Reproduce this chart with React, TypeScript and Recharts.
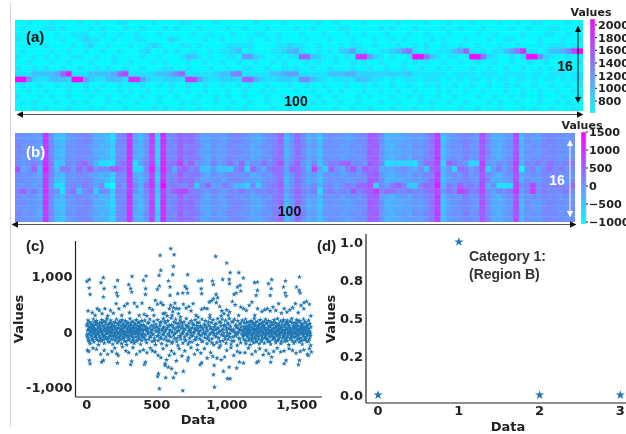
import React from 'react';
import { BarChart, Bar, Cell, XAxis, YAxis, ScatterChart, Scatter, Symbols } from 'recharts';

// ---- Heatmap (a): 16 rows x 100 columns, values in hundreds
const a00 = [7,7,8,7,7,7,8,7,7,7,7,8,7,7,8,7,7,7,8,8,7,7,7,7,8,7,7,7,7,8,8,7,7,7,7,8,7,7,7,7,7,7,8,7,7,7,7,8,7,7,7,7,7,8,7,7,8,7,7,7,7,8,7,7,7,7,7,8,7,7,7,7,8,7,7,7,8,7,7,7,8,7,7,7,7,8,7,7,8,7,7,8,8,7,7,7,7,8,7,7];
const a01 = [7,8,7,7,7,8,8,7,8,7,7,7,7,8,7,8,7,7,7,8,7,7,8,7,7,7,8,7,8,7,7,7,8,7,7,7,7,8,7,7,8,7,7,7,8,7,7,7,7,8,7,7,8,7,7,7,7,8,8,7,7,7,7,7,8,7,8,7,7,7,8,7,7,7,7,8,7,7,8,7,7,7,8,7,7,7,7,8,7,7,8,7,7,7,8,8,7,7,7,8];
const a02 = [7,7,7,8,7,7,7,8,7,7,8,8,8,7,7,8,7,7,8,7,7,8,7,7,7,8,7,7,7,7,7,8,7,7,8,7,7,7,8,7,7,7,8,8,7,7,8,7,7,7,8,7,7,7,8,7,7,7,8,7,7,8,7,7,7,8,7,7,7,8,7,7,8,7,7,7,8,7,7,7,7,8,7,7,8,7,7,7,7,8,7,7,7,8,8,7,7,8,7,7];
const a03 = [8,7,7,7,8,7,7,7,8,7,7,8,9,8,8,7,7,8,7,7,7,8,8,7,7,7,7,9,8,7,7,7,7,8,7,7,8,7,7,7,7,8,7,7,8,7,8,7,7,7,7,8,7,7,7,8,7,7,7,8,7,7,7,8,7,7,8,7,8,7,7,7,7,8,7,8,7,7,7,8,7,7,7,8,7,7,8,8,7,7,7,7,8,7,7,7,8,7,7,8];
const a04 = [7,7,8,7,7,8,7,7,7,7,8,7,8,9,7,7,8,7,7,7,8,7,7,8,9,8,7,7,7,8,8,7,8,7,7,7,7,8,8,8,8,8,7,7,7,7,8,8,9,8,8,7,7,8,7,7,7,8,7,8,8,7,7,8,7,7,7,8,7,7,8,7,8,7,7,8,7,7,8,7,7,8,7,7,7,8,7,7,8,7,7,7,8,7,8,8,8,7,8,7];
const a05 = [7,8,7,7,7,7,8,7,7,8,7,7,8,7,7,8,7,7,8,7,7,7,8,9,7,7,8,7,8,7,7,8,7,7,8,7,8,8,9,10,7,8,7,7,7,8,8,9,10,11,8,7,7,8,7,8,7,9,10,12,8,8,7,7,8,8,9,10,13,14,8,7,8,7,8,8,8,10,12,15,8,7,8,7,8,8,10,12,14,18,8,8,7,8,10,10,11,13,17,20];
const a06 = [8,7,7,8,7,8,7,8,7,7,8,8,7,7,8,7,7,8,7,7,7,7,8,7,7,8,7,7,7,8,10,10,8,7,8,7,7,8,8,7,12,12,9,8,7,7,8,7,8,8,15,15,10,9,8,7,8,7,8,7,18,18,12,9,8,7,8,7,7,8,20,20,14,10,8,7,8,8,7,7,20,20,14,9,8,7,7,8,7,8,20,20,13,9,8,7,7,8,7,7];
const a07 = [7,7,8,7,7,7,8,7,7,8,7,7,7,8,7,7,7,8,7,7,8,7,7,7,8,7,8,7,7,7,8,7,7,8,7,7,8,7,7,8,7,7,8,7,7,8,7,8,7,7,7,8,7,8,7,7,8,7,7,8,7,8,7,7,8,7,7,7,8,7,8,7,8,7,7,8,7,7,8,7,7,8,7,7,8,7,7,8,7,7,8,7,7,8,7,7,8,7,7,8];
const a08 = [8,7,7,8,7,8,7,7,8,7,7,8,7,7,8,7,8,7,7,8,7,7,8,7,7,7,8,8,7,7,8,7,7,7,8,7,7,8,7,7,8,8,7,7,8,7,7,8,7,8,7,7,8,7,7,8,7,7,7,8,7,7,8,7,7,8,7,7,8,7,7,8,7,7,8,7,8,7,7,7,8,7,7,8,7,7,8,7,7,8,7,7,8,7,8,7,7,8,7,7];
const a09 = [8,8,8,10,10,10,10,11,15,19,8,8,8,10,10,10,10,11,15,17,8,8,8,8,9,10,10,11,13,15,8,8,8,8,8,9,10,10,13,14,8,8,8,8,8,10,10,11,12,12,8,8,8,8,8,10,10,10,11,11,9,9,9,9,9,9,9,9,9,10,8,8,8,8,8,8,7,8,8,8,8,7,8,8,8,7,8,8,8,8,7,8,8,7,8,8,8,7,8,8];
const a10 = [20,20,13,9,8,8,10,10,10,9,20,20,12,9,8,8,10,10,10,8,18,18,12,9,8,8,9,9,9,8,17,17,12,9,8,8,9,9,9,8,15,15,11,9,8,8,9,9,9,8,13,13,10,9,8,7,8,8,8,8,10,10,9,8,8,7,8,7,8,8,8,7,8,8,8,7,8,7,8,7,8,8,7,8,7,8,8,7,8,8,7,8,7,8,8,7,8,7,8,8];
const a11 = [7,8,7,7,8,7,7,8,7,8,7,7,8,7,7,8,7,7,8,7,7,7,8,7,7,8,7,8,7,7,8,7,7,8,7,7,8,7,7,8,7,8,7,7,8,7,7,7,8,7,7,8,7,7,8,7,7,7,8,7,7,8,7,8,7,7,8,7,7,8,7,7,8,7,8,7,7,8,7,7,8,7,7,8,7,7,8,7,8,7,7,8,7,7,8,7,7,8,7,8];
const a12 = [7,7,8,7,7,8,7,7,7,8,7,7,8,7,8,7,7,7,8,7,8,7,7,8,7,7,7,8,7,7,8,7,7,8,7,7,7,8,7,7,8,7,7,8,7,8,7,7,7,8,7,7,8,7,7,8,7,8,7,7,7,8,7,7,8,7,7,8,7,7,8,7,7,7,8,7,8,7,7,8,7,7,8,7,7,7,8,7,7,8,7,7,8,7,7,8,7,7,8,7];
const a13 = [8,7,7,7,8,7,8,7,7,8,7,7,7,8,7,7,8,7,7,8,7,7,8,7,7,8,7,7,8,7,7,7,8,7,7,8,7,8,7,7,8,7,7,7,8,7,7,8,7,7,8,7,7,8,7,7,8,7,7,7,8,7,8,7,7,7,8,7,7,8,7,8,7,7,8,7,7,8,7,7,7,8,7,7,8,7,7,8,7,8,7,7,8,7,7,7,8,7,7,8];
const a14 = [7,8,7,8,7,7,7,8,7,7,8,7,8,7,7,7,8,7,8,7,7,8,7,7,7,8,7,7,7,8,7,8,7,7,7,8,7,7,8,7,7,8,7,7,8,7,7,7,8,7,7,7,8,7,8,7,7,8,7,7,8,7,7,7,8,7,7,8,7,7,7,8,7,8,7,7,8,7,7,8,7,7,7,8,7,8,7,7,8,7,7,7,8,7,7,8,7,8,7,7];
const a15 = [7,7,7,8,7,8,7,7,7,8,7,7,7,8,7,8,7,7,7,8,7,7,7,7,8,7,8,7,7,8,7,7,8,7,7,7,7,8,7,7,8,7,7,7,7,8,7,7,8,7,7,8,7,7,7,7,8,7,7,8,7,7,8,7,7,7,8,7,7,7,8,7,7,8,7,7,7,7,8,7,7,8,7,7,7,8,7,7,7,8,7,8,7,7,8,7,7,7,8,7];
const heatRowsA = [a00,a01,a02,a03,a04,a05,a06,a07,a08,a09,a10,a11,a12,a13,a14,a15];

// ---- Heatmap (b): values in hundreds
const bBand = [1,1,0,0,-1,10,1,-3,-4,0,0,1,2,1,-2,-2,-3,-6,1,2,10,-1,-3,0,9,-6,11,1,2,5,3,4,2,-1,-1,0,0,-1,1,2,1,0,-1,-2,0,1,2,5,-3,0,5,1,-2,-1,-4,0,1,0,0,-1,0,1,1,6,5,1,-3,-2,-2,-1,-1,0,-1,1,4,9,-4,-1,0,1,2,1,0,7,2,-2,-2,-1,0,8,-3,1,0,-1,1,2,1,1,0,1];
const bBand2 = [2,0,1,0,-2,9,2,-2,-3,1,0,2,1,0,-1,-3,-2,-5,2,1,11,-2,-2,1,8,-5,10,2,1,6,2,3,3,0,-2,1,-1,0,2,1,0,1,-2,-1,1,0,3,4,-2,1,4,2,-1,0,-3,1,0,1,-1,0,1,0,2,5,6,0,-2,-3,-1,0,-2,1,0,2,3,10,-3,0,1,0,3,0,1,6,1,-1,-3,0,1,7,-2,0,1,0,2,1,2,0,1,0];
const b05 = [1,0,1,2,0,11,3,-5,-4,2,0,3,5,1,-3,-7,-7,-7,2,4,10,-7,-1,2,9,-6,12,3,4,9,2,6,1,0,-2,3,-1,1,4,0,5,-2,1,0,4,1,3,7,-1,2,6,0,-2,2,-4,1,3,2,5,5,1,2,0,6,5,2,-7,-6,-6,-6,-6,-7,0,4,5,9,-6,5,3,1,0,-6,-6,9,0,-1,1,0,2,9,-3,2,1,3,1,4,2,1,2,3];
const b06 = [7,-2,0,6,-3,13,3,-4,3,3,-1,5,2,6,0,2,1,6,6,3,11,-6,-6,2,12,-3,12,4,-2,4,6,1,3,-4,-4,0,-4,-4,-6,2,4,-6,5,1,-2,3,5,4,-1,6,5,2,-3,9,-1,-6,6,1,-2,3,7,0,6,4,5,-2,-1,-1,0,2,-1,-2,1,-5,5,7,-3,1,-6,5,3,-1,2,8,-6,0,3,-1,2,9,-10,1,3,-2,2,5,1,3,1,2];
const b09 = [1,0,1,-1,0,10,1,-7,-6,1,2,0,3,1,-1,2,-8,-10,3,0,10,2,-2,4,10,-4,15,2,3,2,1,4,-5,1,5,-1,0,3,1,-3,-3,-6,2,-5,1,2,3,6,-2,1,4,1,-1,2,-3,1,2,-1,1,3,1,5,5,7,-6,2,-1,3,6,2,-5,-5,2,5,4,13,-3,3,1,6,2,3,1,8,-2,1,-7,-7,-7,9,1,2,8,1,2,1,3,2,1,5];
const b10 = [2,6,1,3,-1,11,2,1,-7,2,4,-5,1,3,-5,2,1,-5,3,2,9,1,-3,2,8,-4,9,2,6,8,8,3,2,1,0,2,1,-1,2,1,3,1,0,2,1,3,2,5,-1,2,6,2,1,3,-7,2,3,1,2,1,7,2,4,6,10,2,4,4,1,2,3,1,2,3,5,8,0,3,2,9,7,2,3,8,1,-1,2,1,3,10,-1,2,9,1,3,2,1,2,3,2];
const heatRowsB = [bBand,bBand,bBand2,bBand,bBand2,b05,b06,bBand2,bBand,b09,b10,bBand2,bBand,bBand,bBand2,bBand];

// ---- Scatter (c)
const cloudHigh = [[2,913],[19,943],[17,793],[24,679],[102,889],[119,979],[124,781],[119,631],[202,811],[221,931],[214,703],[221,649],[300,853],[324,1003],[314,781],[321,721],[405,931],[424,1009],[421,781],[419,679],[517,1021],[524,1381],[529,1111],[519,829],[505,769],[600,1502],[624,1393],[619,1183],[614,1033],[583,919],[595,811],[595,661],[721,1033],[702,823],[714,781],[721,703],[650,691],[686,703],[798,919],[821,931],[817,781],[821,691],[898,919],[905,853],[921,1363],[924,679],[971,949],[1000,1243],[1017,949],[1024,1069],[1019,871],[1086,1069],[1119,973],[1095,841],[1076,811],[1067,703],[1052,679],[1100,739],[1198,889],[1219,901],[1219,751],[1210,661],[1298,871],[1321,943],[1317,781],[1310,661],[1405,811],[1419,919],[1417,703],[1424,649],[1498,811],[1517,751],[1524,703],[1519,991]];
const cloudMidUp = [[10,380],[40,350],[60,300],[75,420],[90,390],[110,330],[130,420],[150,290],[170,390],[190,340],[210,510],[230,420],[250,300],[270,470],[290,510],[305,350],[340,520],[360,460],[375,300],[395,520],[410,320],[430,290],[450,430],[470,400],[490,570],[505,500],[530,530],[545,490],[560,340],[575,290],[590,420],[600,480],[615,370],[630,520],[640,420],[655,330],[670,270],[690,500],[710,430],[730,460],[745,380],[760,510],[780,300],[795,270],[820,410],[840,430],[860,420],[875,540],[890,560],[905,600],[925,530],[935,620],[950,460],[965,380],[980,330],[1000,400],[1020,360],[1040,550],[1060,490],[1085,300],[1100,450],[1120,420],[1140,390],[1160,480],[1180,540],[1200,300],[1220,420],[1250,370],[1270,400],[1290,420],[1310,380],[1330,450],[1350,390],[1370,510],[1390,340],[1410,420],[1430,360],[1450,400],[1470,440],[1490,510],[1510,350],[1530,480],[1550,420],[1552,529],[1570,550],[1590,500],[1600,290],[545,330],[620,440],[880,300],[960,290],[1010,300],[610,300],[480,300],[660,420]];
const cloudMidDown = [[5,-330],[15,-350],[45,-290],[70,-310],[100,-400],[125,-330],[150,-400],[180,-350],[200,-290],[225,-420],[255,-270],[280,-340],[300,-370],[330,-280],[355,-400],[380,-350],[405,-320],[430,-370],[455,-290],[470,-340],[490,-360],[510,-420],[530,-460],[545,-300],[570,-500],[590,-420],[605,-340],[625,-390],[640,-520],[660,-300],[680,-430],[700,-340],[725,-460],[745,-280],[770,-400],[790,-320],[815,-380],[840,-300],[860,-470],[885,-370],[900,-440],[930,-470],[945,-280],[960,-500],[985,-450],[1000,-330],[1030,-280],[1050,-420],[1075,-350],[1095,-370],[1130,-370],[1155,-290],[1180,-400],[1205,-350],[1235,-300],[1260,-410],[1280,-330],[1300,-390],[1335,-350],[1360,-290],[1385,-360],[1410,-340],[1445,-300],[1470,-330],[1495,-380],[1525,-350],[1550,-320],[1575,-400],[1590,-300],[1605,-360]];
const cloudLow = [[19,-511],[24,-571],[119,-511],[107,-541],[219,-559],[214,-390],[321,-529],[314,-589],[419,-541],[412,-583],[512,-751],[519,-1021],[507,-799],[560,-571],[564,-823],[619,-823],[636,-739],[686,-1057],[690,-709],[583,-631],[607,-661],[560,-601],[721,-511],[810,-589],[821,-553],[905,-769],[910,-601],[912,-991],[976,-709],[1005,-841],[1024,-841],[1017,-631],[1071,-649],[1090,-541],[1119,-559],[1214,-553],[1226,-529],[1314,-541],[1321,-450],[1410,-571],[1424,-511],[1512,-589],[1519,-511],[1583,-420]];
const coreA = [[0,120],[3,-80],[6,30],[9,210],[12,-150],[15,60],[18,-30],[21,180],[24,-210],[27,90],[30,-60],[33,10],[36,150],[39,-120],[42,40],[45,-20],[48,230],[51,-180],[54,70],[57,-90],[60,20],[63,130],[66,-40],[69,200],[72,-140],[75,50],[78,-10],[81,100],[84,-230],[87,80],[90,-70],[93,170],[96,-110],[99,0],[102,60],[105,-160],[108,220],[111,-30],[114,110],[117,-80],[120,30],[123,190],[126,-200],[129,70],[132,-50],[135,140],[138,-120],[141,10],[144,240],[147,-20],[150,90],[153,-170],[156,50],[159,-90],[162,160],[165,-60],[168,20],[171,210],[174,-130],[177,80],[180,-10],[183,120],[186,-220],[189,40],[192,-70],[195,180],[198,-40],[201,100],[204,-150],[207,60],[210,-100],[213,230],[216,0],[219,-190],[222,140],[225,-30],[228,70],[231,-80],[234,190],[237,-120],[240,30],[243,110],[246,-60],[249,-210],[252,220],[255,50],[258,-20],[261,150],[264,-100],[267,80],[270,-160],[273,10],[276,200],[279,-50],[282,120],[285,-230],[288,60],[291,-90],[294,170],[297,-10],[300,90],[303,-140],[306,30],[309,240],[312,-70],[315,130],[318,-180],[321,0],[324,80],[327,-40],[330,190],[333,-110],[336,50],[339,-200],[342,150],[345,-20],[348,70],[351,-90],[354,220],[357,20],[360,-150],[363,110],[366,-60],[369,40],[372,-10],[375,170],[378,-130],[381,90],[384,-220],[387,60],[390,-40],[393,200],[396,-80],[399,10]];
const coreB = [[403,130],[407,-100],[411,40],[415,210],[419,-60],[423,90],[427,-190],[431,20],[435,160],[439,-30],[443,-130],[447,70],[451,230],[455,-80],[459,0],[463,110],[467,-170],[471,50],[475,-40],[479,190],[483,-110],[487,80],[491,-230],[495,140],[499,10],[503,-70],[507,220],[511,-150],[515,60],[519,-20],[523,120],[527,-100],[531,180],[535,-210],[539,30],[543,-50],[547,240],[551,90],[555,-130],[559,10],[563,160],[567,-80],[571,-240],[575,70],[579,200],[583,-30],[587,-160],[591,120],[595,40],[599,-90],[603,250],[607,-200],[611,0],[615,100],[619,-60],[623,180],[627,-120],[631,50],[635,230],[639,-10],[643,-170],[647,90],[651,-240],[655,150],[659,30],[663,-70],[667,210],[671,-130],[675,70],[679,-30],[683,120],[687,-200],[691,10],[695,180],[699,-90],[703,50],[707,-150],[711,240],[715,-50],[719,100],[723,-220],[727,20],[731,160],[735,-110],[739,60],[743,-20],[747,200],[751,-180],[755,80],[759,-60],[763,130],[767,0],[771,-140],[775,220],[779,40],[783,-90],[787,110],[791,-230],[795,70],[799,-30],[803,170],[807,-120],[811,20],[815,90],[819,-60],[823,230],[827,-170],[831,50],[835,-10],[839,140],[843,-100],[847,200],[851,-40],[855,80],[859,-210],[863,30],[867,-80],[871,120],[875,-150],[879,250],[883,60],[887,-20],[891,170],[895,-120],[899,0],[903,220],[907,-230],[911,90],[915,-70],[919,40],[923,150],[927,-190],[931,-30],[935,240],[939,70],[943,-110],[947,180],[951,10],[955,-240],[959,110],[963,-50],[967,230],[971,-160],[975,50],[979,-20],[983,130],[987,-90],[991,210],[995,-200],[999,30]];
const coreC = [[1003,-70],[1007,160],[1011,-130],[1015,60],[1019,240],[1023,-30],[1027,100],[1031,-220],[1035,20],[1039,180],[1043,-90],[1047,50],[1051,-160],[1055,230],[1059,-10],[1063,120],[1067,-60],[1071,80],[1075,-240],[1079,200],[1083,0],[1087,-110],[1091,140],[1095,40],[1099,-190],[1103,90],[1107,-30],[1111,210],[1115,-80],[1119,20],[1122,-130],[1125,170],[1128,60],[1131,-50],[1134,230],[1137,-210],[1140,100],[1143,-10],[1146,40],[1149,-90],[1152,180],[1155,-150],[1158,70],[1161,-30],[1164,130],[1167,-230],[1170,10],[1173,200],[1176,-70],[1179,90],[1182,-110],[1185,40],[1188,160],[1191,-190],[1194,-20],[1197,240],[1200,60],[1203,-120],[1206,110],[1209,-50],[1212,20],[1215,-160],[1218,190],[1221,-80],[1224,70],[1227,-10],[1230,130],[1233,-210],[1236,30],[1239,220],[1242,-60],[1245,90],[1248,-140],[1251,0],[1254,170],[1257,-100],[1260,50],[1263,-30],[1266,120],[1269,-200],[1272,80],[1275,-70],[1278,230],[1281,10],[1284,-120],[1287,150],[1290,-40],[1293,60],[1296,-170],[1299,200],[1302,20],[1305,-90],[1308,100],[1311,-10],[1314,-220],[1317,180],[1320,40],[1323,-60],[1326,130],[1329,-130],[1332,70],[1335,-20],[1338,220],[1341,-100],[1344,10],[1347,160],[1350,-190],[1353,90],[1356,-50],[1359,30],[1362,240],[1365,-150],[1368,60],[1371,-30],[1374,120],[1377,-80],[1380,0],[1383,190],[1386,-210],[1389,80],[1392,-10],[1395,140],[1398,-110],[1401,40],[1404,220],[1407,-60],[1410,100],[1413,-170],[1416,20],[1419,-30],[1422,170],[1425,-120],[1428,60],[1431,210],[1434,-80],[1437,10],[1440,130],[1443,-230],[1446,80],[1449,-40],[1452,190],[1455,-100],[1458,30],[1461,-10],[1464,240],[1467,-150],[1470,70],[1473,-60],[1476,120],[1479,-200],[1482,50],[1485,0],[1488,170],[1491,-90],[1494,90],[1497,-30],[1500,220],[1503,-130],[1506,20],[1509,110],[1512,-70],[1515,60],[1518,-180],[1521,200],[1524,-10],[1527,40],[1530,-110],[1533,150],[1536,80],[1539,-220],[1542,10],[1545,-50],[1548,230],[1551,100],[1554,-140],[1557,30],[1560,-30],[1563,180],[1566,-90],[1569,70],[1572,-170],[1575,120],[1578,0],[1581,-60],[1584,210],[1587,50],[1590,-120],[1593,150],[1596,-20],[1599,-240]];
const coreD = [[2,-40],[7,150],[11,-110],[16,90],[20,-170],[25,20],[29,140],[34,-70],[38,70],[43,-140],[47,110],[52,-10],[56,180],[61,-60],[65,40],[70,-100],[74,160],[79,-30],[83,10],[88,-160],[92,120],[97,50],[101,-120],[106,10],[110,170],[115,-50],[119,-140],[124,100],[128,20],[133,-90],[137,190],[142,-30],[146,60],[151,-120],[155,130],[160,0],[164,-180],[169,80],[173,-20],[178,150],[182,-70],[187,40],[191,-130],[196,110],[200,-10],[205,170],[209,-60],[214,30],[218,-110],[223,80],[227,150],[232,-160],[236,0],[241,-50],[245,180],[250,60],[254,-120],[259,20],[263,120],[268,-80],[272,-30],[277,90],[281,-170],[286,160],[290,10],[295,-60],[299,-130],[304,120],[308,60],[313,-20],[317,170],[322,-90],[326,30],[331,-150],[335,100],[340,-40],[344,10],[349,140],[353,-170],[358,60],[362,-20],[367,180],[371,-110],[376,20],[380,90],[385,-60],[389,130],[394,-150],[398,50],[405,-30],[413,100],[421,-140],[429,60],[437,-10],[445,170],[453,-90],[461,30],[469,-40],[477,120],[485,-160],[493,20],[501,90],[509,-70],[517,30],[525,170],[533,-120],[541,60],[549,-30],[557,190],[565,40],[573,-150],[581,110],[589,-60],[597,10],[605,130],[613,-180],[621,70],[629,-30],[637,160],[645,-110],[653,20],[661,100],[669,-80],[677,170],[685,-20],[693,60],[701,-140],[709,120],[717,-30],[725,90],[733,-180],[741,30],[749,-70],[757,150],[765,-10],[773,60],[781,-130],[789,170],[797,20],[805,-50],[813,110],[821,-160],[829,70],[837,-30],[845,120],[853,10],[861,-120],[869,180],[877,-40],[885,90],[893,-190],[901,40],[909,-30],[917,130],[925,-90],[933,60],[941,-10],[949,-170],[957,170],[965,30],[973,-60],[981,110],[989,-130],[997,80],[1005,-20],[1013,140],[1021,-90],[1029,40],[1037,-160],[1045,190],[1053,10],[1061,-70],[1069,110],[1077,-30],[1085,60],[1093,-130],[1101,160],[1109,30],[1117,-60],[1124,100],[1129,-10],[1133,-160],[1138,50],[1142,170],[1147,-70],[1151,20],[1156,110],[1160,-120],[1165,40],[1169,-20],[1174,180],[1178,-150],[1183,70],[1187,-40],[1192,130],[1196,10],[1201,-90],[1205,170],[1210,-180],[1214,50],[1219,-20],[1223,100],[1228,-120],[1232,20],[1237,150],[1241,-60],[1246,70],[1250,-170],[1255,10],[1259,120],[1264,-40],[1268,190],[1273,-100],[1277,40],[1282,-10],[1286,160],[1291,-140],[1295,80],[1300,-30],[1304,110],[1309,-170],[1313,30],[1318,-60],[1322,140],[1327,0],[1331,-100],[1336,180],[1340,60],[1345,-20],[1349,-150],[1354,110],[1358,-70],[1363,20],[1367,150],[1372,-120],[1376,50],[1381,-40],[1385,90],[1390,-170],[1394,10],[1399,190],[1403,-80],[1408,40],[1412,-20],[1417,130],[1421,-110],[1426,70],[1430,-160],[1435,160],[1439,-30],[1444,20],[1448,100],[1453,-130],[1457,50],[1462,-60],[1466,170],[1471,0],[1475,-90],[1480,110],[1484,-20],[1489,-170],[1493,60],[1498,140],[1502,-50],[1507,10],[1511,180],[1516,-120],[1520,40],[1525,-30],[1529,90],[1534,-160],[1538,130],[1543,-10],[1547,60],[1552,-90],[1556,170],[1561,20],[1565,-130],[1570,100],[1574,-40],[1579,50],[1583,-170],[1588,140],[1592,10],[1597,-70],[1600,90]];
const scatterPoints = [...cloudHigh, ...cloudMidUp, ...cloudMidDown, ...cloudLow, ...coreA, ...coreB, ...coreC, ...coreD].map(([x, y]) => ({ x, y }));

// ---- Scatter (d)
const dX = [0, 1, 2, 3];
const dY = [0, 1, 0, 0];
const dPoints = dX.map((x, i) => ({ x, y: dY[i] }));
const dYTicks = [0, 0.25, 0.5, 0.75, 1];
const dYLabels = ['0.0', '0.2', '0.5', '0.8', '1.0'];

// ---- Colour bars
const barATicks = [800, 1000, 1200, 1400, 1600, 1800, 2000];
const barADomain = [610, 2095];
const barBTicks = [-1000, -500, 0, 500, 1000, 1500];
const barBDomain = [-1055, 1500];

const ink = '#222';
const tickFont = { fontFamily: 'DejaVu Sans', fontWeight: 700, fontSize: 13, fill: ink };
const cbFont = { fontFamily: 'DejaVu Sans', fontWeight: 700, fontSize: 11.2, fill: ink };
const blue = '#1f77b4';

const cool = (v: number, lo: number, hi: number) => {
  const t = Math.max(0, Math.min(1, (v - lo) / (hi - lo)));
  return `rgb(${Math.round(255 * t)},${Math.round(255 * (1 - t))},255)`;
};

function Heatmap({ rows, lo, hi, left, top, width, height }: any) {
  const data = rows[0].map((_: number, c: number) => {
    const o: any = { col: c };
    rows.forEach((_r: number[], r: number) => { o['r' + r] = 1; });
    return o;
  });
  return (
    <div style={{ position: 'absolute', left, top }}>
      <BarChart width={width} height={height} data={data} margin={{ top: 0, right: 0, bottom: 0, left: 0 }} barCategoryGap={0} barGap={0}>
        <XAxis dataKey="col" hide />
        <YAxis hide reversed type="number" domain={[0, rows.length]} />
        {rows.map((row: number[], r: number) => (
          <Bar key={r} dataKey={'r' + r} stackId="h" isAnimationActive={false}>
            {row.map((v, c) => {
              const f = cool(v * 100, lo, hi);
              return <Cell key={c} fill={f} stroke={f} strokeWidth={0.4} />;
            })}
          </Bar>
        ))}
      </BarChart>
    </div>
  );
}

function ColorBar({ id, domain, ticks, left, top, height, fmt }: any) {
  const data = [{ k: 'cb', range: domain }];
  return (
    <div style={{ position: 'absolute', left, top: top - 6 }}>
      <BarChart width={50} height={height + 12} data={data} margin={{ top: 6, right: 0, bottom: 6, left: 0 }} barCategoryGap={0}>
        <defs>
          <linearGradient id={id} x1="0" y1="1" x2="0" y2="0">
            <stop offset="0" stopColor="#00ffff" />
            <stop offset="1" stopColor="#ff00ff" />
          </linearGradient>
        </defs>
        <XAxis dataKey="k" hide />
        <YAxis orientation="right" type="number" domain={domain} ticks={ticks} interval={0} width={45} axisLine={false}
          tickSize={2} tickLine={{ stroke: ink }} tick={cbFont} tickMargin={1} tickFormatter={fmt} allowDataOverflow />
        <Bar dataKey="range" fill={`url(#${id})`} stroke="#bbb" strokeWidth={0.8} isAnimationActive={false} />
      </BarChart>
    </div>
  );
}

function Arrow({ x1, y1, x2, y2, color, id }: any) {
  return <line x1={x1} y1={y1} x2={x2} y2={y2} stroke={color} strokeWidth={1} markerStart={`url(#${id})`} markerEnd={`url(#${id})`} />;
}

const star = (size: number) => (p: any) => <Symbols type="star" size={size} cx={p.cx} cy={p.cy} fill={blue} />;

const sans = { fontFamily: 'Liberation Sans', fontWeight: 700 };
const dj = { fontFamily: 'DejaVu Sans', fontWeight: 700, fill: ink };

export default function App() {
  return (
    <div style={{ position: 'absolute', left: 0, top: 0, width: 626, height: 434, overflow: 'hidden', background: '#fff', filter: 'blur(0.35px)' }}>
      <div style={{ position: 'absolute', left: 10, top: 3, width: 1, height: 424, background: '#d4d4d4' }} />

      <Heatmap rows={heatRowsA} lo={660} hi={2050} left={15} top={20} width={568} height={91} />
      <Heatmap rows={heatRowsB} lo={-1000} hi={1500} left={15} top={133} width={560} height={89} />

      <ColorBar id="cbA" domain={barADomain} ticks={barATicks} left={590} top={19} height={94} />
      <ColorBar id="cbB" domain={barBDomain} ticks={barBTicks} left={581} top={132} height={92} fmt={(v: number) => String(v).replace('-', '\u2212')} />

      <div style={{ position: 'absolute', left: 0, top: 232 }}>
        <ScatterChart width={330} height={202} margin={{ top: 9, right: 8, bottom: 0, left: 35.5 }}>
          <XAxis type="number" dataKey="x" domain={[-80, 1680]} ticks={[0, 500, 1000, 1500]} interval={0} tickLine={false} tickSize={0} height={37}
            axisLine={{ stroke: ink, strokeWidth: 1.2 }} tick={tickFont} tickMargin={3} tickFormatter={(v: number) => v.toLocaleString('en-US')} />
          <YAxis type="number" dataKey="y" domain={[-1170, 1640]} ticks={[-1000, 0, 1000]} interval={0} width={40} tickLine={false} tickSize={0}
            axisLine={{ stroke: ink, strokeWidth: 1.2 }} tick={tickFont} tickMargin={3} tickFormatter={(v: number) => v.toLocaleString('en-US')} />
          <Scatter data={scatterPoints} shape={star(9)} fill={blue} isAnimationActive={false} />
        </ScatterChart>
      </div>

      <div style={{ position: 'absolute', left: 326, top: 232 }}>
        <ScatterChart width={300} height={202} margin={{ top: 2, right: 0, bottom: 0, left: 0 }}>
          <XAxis type="number" dataKey="x" domain={[-0.15, 3.07]} ticks={dX} interval={0} tickLine={false} tickSize={0} height={31}
            axisLine={{ stroke: ink, strokeWidth: 1.2 }} tick={tickFont} tickMargin={3} />
          <YAxis type="number" dataKey="y" domain={[-0.052, 1.052]} ticks={dYTicks} interval={0} width={40} tickLine={false} tickSize={0}
            axisLine={{ stroke: ink, strokeWidth: 1.2 }} tick={tickFont} tickMargin={3} tickFormatter={(v: number) => dYLabels[dYTicks.indexOf(v)]} />
          <Scatter data={dPoints} shape={star(26)} fill={blue} isAnimationActive={false} />
        </ScatterChart>
      </div>

      <svg width={626} height={434} style={{ position: 'absolute', left: 0, top: 0, pointerEvents: 'none' }}>
        <defs>
          <marker id="hk" viewBox="0 0 10 10" refX="8" refY="5" markerWidth="6.5" markerHeight="6.5" orient="auto-start-reverse">
            <path d="M0,0 L10,5 L0,10 z" fill="#111" />
          </marker>
          <marker id="hw" viewBox="0 0 10 10" refX="8" refY="5" markerWidth="6.5" markerHeight="6.5" orient="auto-start-reverse">
            <path d="M0,0 L10,5 L0,10 z" fill="#fff" />
          </marker>
        </defs>
        <Arrow x1={18} y1={114.5} x2={582} y2={114.5} color="#555" id="hk" />
        <Arrow x1={578} y1={27} x2={578} y2={102} color="#111" id="hk" />
        <Arrow x1={13} y1={224.5} x2={575} y2={224.5} color="#555" id="hk" />
        <Arrow x1={570} y1={141} x2={570} y2={216} color="#fff" id="hw" />

        <text x={26} y={42} fontSize={15} {...sans} fill="#111">(a)</text>
        <text x={26} y={157} fontSize={15} {...sans} fill="#fff">(b)</text>
        <text x={26} y={251} fontSize={15} {...sans} fill="#222">(c)</text>
        <text x={317} y={251} fontSize={15} {...sans} fill="#222">(d)</text>
        <text x={296} y={106} fontSize={14} textAnchor="middle" {...sans} fill="#111">100</text>
        <text x={289.5} y={216} fontSize={14} textAnchor="middle" {...sans} fill="#111">100</text>
        <text x={565} y={71} fontSize={14} textAnchor="middle" {...sans} fill="#111">16</text>
        <text x={557} y={185} fontSize={14} textAnchor="middle" {...sans} fill="#fff">16</text>
        <text x={469} y={261} fontSize={14} {...sans} fill="#333">Category 1:</text>
        <text x={469} y={279} fontSize={14} {...sans} fill="#333">(Region B)</text>

        <text x={591} y={16} fontSize={11} textAnchor="middle" {...dj}>Values</text>
        <text x={582} y={129} fontSize={11} textAnchor="middle" {...dj}>Values</text>
        <text x={198} y={424} fontSize={13} textAnchor="middle" {...dj}>Data</text>
        <text x={508} y={431} fontSize={13} textAnchor="middle" {...dj}>Data</text>
        <text transform="translate(23,319) rotate(-90)" fontSize={13} textAnchor="middle" {...dj}>Values</text>
        <text transform="translate(335,319) rotate(-90)" fontSize={13} textAnchor="middle" {...dj}>Values</text>
      </svg>
    </div>
  );
}
